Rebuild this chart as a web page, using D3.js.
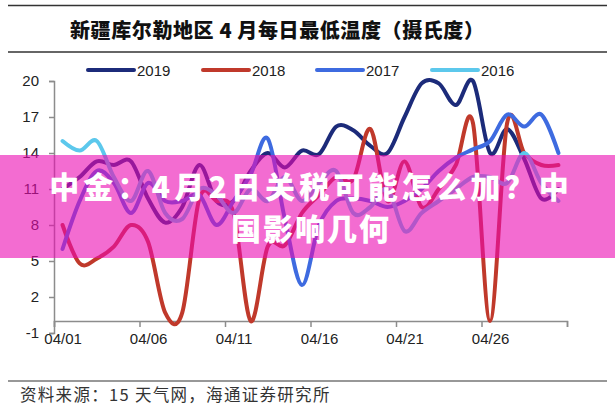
<!DOCTYPE html>
<html><head><meta charset="utf-8">
<script src="https://cdn.jsdelivr.net/npm/d3@7"></script>
<style>
html,body{margin:0;padding:0;background:#fff;}
svg{display:block;}
</style></head>
<body>
<svg id="c" width="615" height="414"></svg>
<script>
const days = ["04/01","04/02","04/03","04/04","04/05","04/06","04/07","04/08","04/09","04/10",
  "04/11","04/12","04/13","04/14","04/15","04/16","04/17","04/18","04/19","04/20",
  "04/21","04/22","04/23","04/24","04/25","04/26","04/27","04/28","04/29","04/30"];
const xTickLabels = ["04/01","04/06","04/11","04/16","04/21","04/26"];
const yTicks = [-1,2,5,8,11,14,17,20];
const seriesNames = ["2019","2018","2017","2016"];
const seriesColors = ["#1c2b7a","#c0392b","#3e6be0","#5cc8ec"];
const v2019 = [11,12,13.3,13,13.3,10.2,8.2,9.5,13,10,10,12.5,14,12.8,14.2,13.9,16.2,15.9,14.6,14,17,19.8,19.8,18,20,14,16,13.5,10.2,11];
const v2018 = [8,4.8,5.2,6.2,8,6.6,0.7,0.7,10.2,10,9,0,6.2,6.3,9,10.5,12,11.8,16,10,13.3,9.5,11,13,16.5,0,16.5,14,13,13];
const v2017 = [6,10,12.5,11.5,9,11.5,10,10,10.5,8,10,12.2,15.2,8.5,3,8,10,10.2,10,9.5,10,11,12.5,13.6,14.3,15,17.2,16.2,17.2,14];
const v2016 = [15,14.2,15,12,10,12.5,9,8.5,11,10.5,9,11,10,12,10,11.5,12.5,9,9.5,11,7.5,9,10,11,12,12,11.5,14,11.5,10];
const seriesValues = [v2019,v2018,v2017,v2016];

const svg = d3.select("#c");
const x = d3.scaleLinear().domain([0, days.length]).range([54, 567]);
const y = d3.scaleLinear().domain([-1, 20]).range([333, 81]);

// rules and title
svg.append("line").attr("x1",8).attr("x2",607).attr("y1",5.5).attr("y2",5.5).attr("stroke","#333").attr("stroke-width",1.5);
svg.append("line").attr("x1",8).attr("x2",607).attr("y1",52).attr("y2",52).attr("stroke","#333").attr("stroke-width",1.5);
svg.append("text").attr("x",70).attr("y",38).attr("font-family","'Noto Sans CJK SC'").attr("font-weight",900)
  .attr("font-size",20).attr("letter-spacing",0.6).attr("fill","#111").text("新疆库尔勒地区 4 月每日最低温度（摄氏度）");

// y axis
const yAxis = d3.axisLeft(y).tickValues(yTicks).tickSize(5).tickPadding(10).tickFormat(d => String(d));
const gy = svg.append("g").attr("transform","translate(54,0)").call(yAxis);
gy.select(".domain").attr("stroke","#8c8c8c").attr("stroke-width",1.5);
gy.selectAll(".tick line").attr("stroke","#8c8c8c").attr("stroke-width",1.5);
gy.selectAll("text").attr("font-family","'Liberation Sans',Arial").attr("font-size",15).attr("fill","#222");

// x axis at value 0
const gx = svg.append("g").attr("transform",`translate(0,${y(0)})`)
  .call(d3.axisBottom(x).tickValues(d3.range(0, days.length+1, 5)).tickSize(6).tickFormat(""));
gx.select(".domain").attr("stroke","#8c8c8c").attr("stroke-width",1.5);
gx.selectAll(".tick line").attr("stroke","#8c8c8c").attr("stroke-width",1.5);
const gxl = svg.append("g").attr("transform",`translate(0,${y(0)})`)
  .call(d3.axisBottom(x).tickValues(xTickLabels.map(l => days.indexOf(l)+0.5)).tickSize(0).tickPadding(12)
    .tickFormat(d => days[Math.floor(d)]));
gxl.select(".domain").remove();
gxl.selectAll("text").attr("font-family","'Liberation Sans',Arial").attr("font-size",15).attr("fill","#222");

// lines
const line = d3.line().x((d,i) => x(i+0.5)).y(d => y(d)).curve(d3.curveCardinal.tension(0));
seriesValues.forEach((vals, k) => {
  svg.append("path").datum(vals).attr("d", line).attr("fill","none")
    .attr("stroke", seriesColors[k]).attr("stroke-width",4).attr("stroke-linejoin","round").attr("stroke-linecap","round");
});

// legend
const legX = [88, 203, 317, 432];
seriesNames.forEach((n,k) => {
  svg.append("line").attr("x1",legX[k]).attr("x2",legX[k]+46).attr("y1",70).attr("y2",70)
    .attr("stroke",seriesColors[k]).attr("stroke-width",4).attr("stroke-linecap","round");
  svg.append("text").attr("x",legX[k]+49).attr("y",75.5).attr("font-family","'Liberation Sans',Arial")
    .attr("font-size",15).attr("fill","#222").text(n);
});

// bottom source
svg.append("line").attr("x1",8).attr("x2",607).attr("y1",381).attr("y2",381).attr("stroke","#333").attr("stroke-width",1.2);
svg.append("text").attr("x",20).attr("y",401).attr("font-family","'Noto Sans CJK SC'").attr("font-size",16.5)
  .attr("letter-spacing",1.3).attr("fill","#333").text("资料来源：15 天气网，海通证券研究所");

// overlay banner
svg.append("rect").attr("x",0).attr("y",155).attr("width",615).attr("height",103)
  .attr("fill","rgb(235,10,178)").attr("fill-opacity",0.6);
const bt = svg.append("text").attr("font-family","'Noto Sans CJK SC'").attr("font-weight",900)
  .attr("font-size",30).attr("fill","#fff").attr("text-anchor","middle");
bt.append("tspan").attr("x",311).attr("y",198).attr("letter-spacing",4.2).text("中金：4月2日关税可能怎么加？中");
bt.append("tspan").attr("x",311).attr("y",240).attr("letter-spacing",2).text("国影响几何");
</script>
</body></html>
